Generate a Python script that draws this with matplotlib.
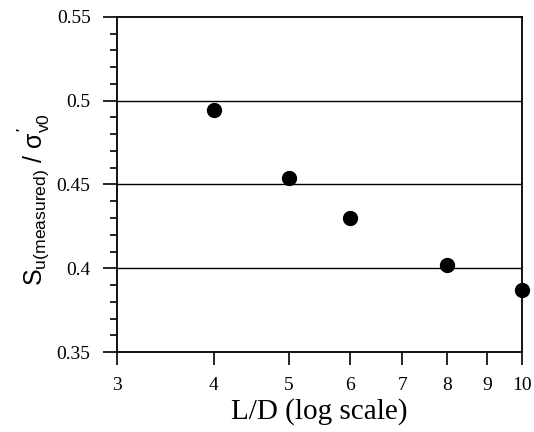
import matplotlib
matplotlib.use("Agg")
import matplotlib.pyplot as plt
from matplotlib.ticker import MultipleLocator, NullLocator, FixedLocator

ld = [4, 5, 6, 8, 10]
su_ratio = [0.4945, 0.454, 0.430, 0.402, 0.387]
xticks = [3, 4, 5, 6, 7, 8, 9, 10]
yticks = [0.35, 0.4, 0.45, 0.5, 0.55]
ytick_labels = ["0.35", "0.4", "0.45", "0.5", "0.55"]

plt.rcParams['font.family'] = ['Liberation Serif', 'DejaVu Serif']
plt.rcParams['mathtext.fontset'] = 'custom'
plt.rcParams['mathtext.rm'] = 'Liberation Sans'
plt.rcParams['mathtext.it'] = 'Liberation Sans'
plt.rcParams['mathtext.bf'] = 'Liberation Sans:bold'

fig = plt.figure(figsize=(5.34, 4.32), dpi=100)
ax = fig.add_axes([0.219, 0.185, 0.759, 0.776])

ax.set_xscale('log')
ax.set_xlim(3, 10)
ax.set_ylim(0.35, 0.55)

for y in [0.4, 0.45, 0.5]:
    ax.axhline(y, color='black', lw=1.0, zorder=1)

ax.plot(ld, su_ratio, 'o', color='black', markersize=10, clip_on=False, zorder=3)

ax.xaxis.set_major_locator(FixedLocator(xticks))
ax.xaxis.set_minor_locator(NullLocator())
ax.set_xticklabels([str(t) for t in xticks])
ax.set_yticks(yticks)
ax.set_yticklabels(ytick_labels)
ax.yaxis.set_minor_locator(MultipleLocator(0.01))

ax.tick_params(axis='x', which='major', direction='out', length=9, width=1.2,
               labelsize=14, pad=9)
ax.tick_params(axis='y', which='major', direction='out', length=10, width=1.2,
               labelsize=14, pad=9)
ax.tick_params(axis='y', which='minor', direction='out', length=5, width=1.2)

for s in ax.spines.values():
    s.set_linewidth(1.3)

ax.set_xlabel('L/D (log scale)', fontsize=21, labelpad=3)
ax.set_ylabel(r"$\mathrm{S_{u(measured)}}\ /\ \sigma^{\mathbf{'}}_{\mathrm{v0}}$", fontsize=18)
ax.yaxis.set_label_coords(-0.16, 0.454)

fig.savefig('out.png', dpi=100)
